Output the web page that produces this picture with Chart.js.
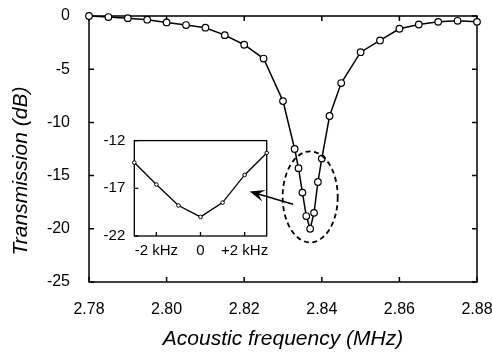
<!DOCTYPE html>
<html>
<head>
<meta charset="utf-8">
<script src="https://cdn.jsdelivr.net/npm/chart.js@4/dist/chart.umd.min.js"></script>
<style>
  html, body { margin: 0; padding: 0; background: #fff; }
  #wrap { position: relative; width: 492px; height: 358px; }
  #main { position: absolute; left: 0; top: 0; }
  #inset { position: absolute; left: 95px; top: 128px; }
</style>
</head>
<body>
<div id="wrap">
  <canvas id="main" width="492" height="358"></canvas>
  <canvas id="inset" width="180" height="140"></canvas>
</div>
<script>
// main sweep: acoustic frequency (MHz) vs transmission (dB)
const freqMHz = [2.78, 2.785, 2.79, 2.795, 2.80, 2.805, 2.81, 2.815, 2.82, 2.825, 2.83,
                 2.833, 2.834, 2.835, 2.836, 2.837, 2.838, 2.839, 2.840, 2.842, 2.845,
                 2.85, 2.855, 2.86, 2.865, 2.87, 2.875, 2.88];
const transDb = [0, -0.1, -0.2, -0.35, -0.6, -0.85, -1.1, -1.8, -2.7, -4.0, -8.0,
                 -12.5, -14.3, -16.6, -18.8, -20.0, -18.5, -15.6, -13.4, -9.4, -6.3,
                 -3.4, -2.3, -1.2, -0.8, -0.55, -0.45, -0.55];
const xTicks = [2.78, 2.80, 2.82, 2.84, 2.86, 2.88];
const yTicks = [0, -5, -10, -15, -20, -25];

// inset: zoom on the dip, offset from 2.837 MHz in kHz
const insetKHz = [-3, -2, -1, 0, 1, 2, 3];
const insetDb = [-14.3, -16.6, -18.8, -20.0, -18.5, -15.6, -13.3];
const insetXTicks = [-2, 0, 2];
const insetXLabels = ['-2 kHz', '0', '+2 kHz'];
const insetYTicks = [-12, -17, -22];

// dashed ellipse around the dip and arrow toward the inset (data units)
const ring = { x: 2.837, y: -17.0, rx: 0.0071, ry: 4.28 };
const arrow = { fromX: 2.8326, fromY: -17.7, toX: 2.8214, toY: -16.5 };

Chart.defaults.font.family = "Arial, 'Liberation Sans', sans-serif";
Chart.defaults.color = '#000';

// box around the plot with inward tick marks
const frameTicks = {
  id: 'frameTicks',
  beforeDatasetsDraw(chart, args, opts) {
    const { ctx, chartArea: a, scales: { x, y } } = chart;
    ctx.save();
    ctx.strokeStyle = '#000';
    ctx.lineWidth = opts.width;
    ctx.strokeRect(a.left, a.top, a.right - a.left, a.bottom - a.top);
    ctx.beginPath();
    x.ticks.forEach(t => {
      const px = x.getPixelForValue(t.value);
      ctx.moveTo(px, a.bottom); ctx.lineTo(px, a.bottom - opts.len);
      if (opts.top) { ctx.moveTo(px, a.top); ctx.lineTo(px, a.top + opts.len); }
    });
    y.ticks.forEach(t => {
      const py = y.getPixelForValue(t.value);
      ctx.moveTo(a.left, py); ctx.lineTo(a.left + opts.len, py);
      if (opts.right) { ctx.moveTo(a.right, py); ctx.lineTo(a.right - opts.len, py); }
    });
    ctx.stroke();
    ctx.restore();
  }
};

// dashed ellipse + arrow + y title (placed a bit below centre like the original)
const marks = {
  id: 'marks',
  afterDatasetsDraw(chart) {
    const { ctx, scales: { x, y } } = chart;
    ctx.save();
    const cx = x.getPixelForValue(ring.x), cy = y.getPixelForValue(ring.y);
    const rx = x.getPixelForValue(ring.x + ring.rx) - cx;
    const ry = cy - y.getPixelForValue(ring.y + ring.ry);
    ctx.strokeStyle = '#000';
    ctx.lineWidth = 1.8;
    ctx.setLineDash([5, 3.5]);
    ctx.beginPath();
    ctx.ellipse(cx, cy, rx, ry, 0, 0, Math.PI * 2);
    ctx.stroke();
    ctx.setLineDash([]);

    const x0 = x.getPixelForValue(arrow.fromX), y0 = y.getPixelForValue(arrow.fromY);
    const x1 = x.getPixelForValue(arrow.toX), y1 = y.getPixelForValue(arrow.toY);
    const ang = Math.atan2(y1 - y0, x1 - x0);
    ctx.lineWidth = 1.5;
    ctx.beginPath();
    ctx.moveTo(x0, y0);
    ctx.lineTo(x1 - 8 * Math.cos(ang), y1 - 8 * Math.sin(ang));
    ctx.stroke();
    const L = 15, W = 6;
    const bx = x1 - L * Math.cos(ang), by = y1 - L * Math.sin(ang);
    const nx = -Math.sin(ang), ny = Math.cos(ang);
    const mx = x1 - 0.6 * L * Math.cos(ang), my = y1 - 0.6 * L * Math.sin(ang);
    ctx.fillStyle = '#000';
    ctx.beginPath();
    ctx.moveTo(x1, y1);
    ctx.lineTo(bx + nx * W, by + ny * W);
    ctx.lineTo(mx, my);
    ctx.lineTo(bx - nx * W, by - ny * W);
    ctx.closePath();
    ctx.fill();

    ctx.translate(21, (y.top + y.bottom) / 2 + 22);
    ctx.rotate(-Math.PI / 2);
    ctx.font = "italic 21px Arial, 'Liberation Sans', sans-serif";
    ctx.textAlign = 'center';
    ctx.textBaseline = 'middle';
    ctx.fillText('Transmission (dB)', 0, 0);
    ctx.restore();
  }
};

// drop the extra room Chart.js keeps for overhanging labels
const noOverhangX = h => s => { s.height = h; s.paddingLeft = 0; s.paddingRight = 0; };
const noOverhangY = w => s => { s.width = w; s.paddingTop = 0; s.paddingBottom = 0; };

new Chart(document.getElementById('main'), {
  type: 'line',
  data: {
    datasets: [{
      data: freqMHz.map((f, i) => ({ x: f, y: transDb[i] })),
      borderColor: '#000',
      borderWidth: 1.5,
      pointRadius: 3.3,
      pointBorderWidth: 1.2,
      pointBackgroundColor: '#fff',
      pointBorderColor: '#000',
      tension: 0,
      clip: false
    }]
  },
  options: {
    responsive: false,
    animation: false,
    layout: { padding: { top: 16, right: 15, left: 0, bottom: 0 } },
    plugins: {
      legend: { display: false },
      tooltip: { enabled: false },
      frameTicks: { width: 1.5, len: 5, top: true, right: true }
    },
    scales: {
      x: {
        type: 'linear',
        min: 2.78,
        max: 2.88,
        afterBuildTicks: s => { s.ticks = xTicks.map(v => ({ value: v })); },
        afterFit: noOverhangX(76),
        grid: { display: false, drawTicks: false },
        border: { display: false },
        ticks: {
          padding: 18,
          maxRotation: 0,
          font: { size: 16 },
          callback: v => Number(v).toFixed(2)
        },
        title: {
          display: true,
          text: 'Acoustic frequency (MHz)',
          font: { size: 21, style: 'italic' },
          padding: { top: 0, bottom: 6 }
        }
      },
      y: {
        min: -25,
        max: 0,
        afterBuildTicks: s => { s.ticks = yTicks.map(v => ({ value: v })); },
        afterFit: noOverhangY(89),
        grid: { display: false, drawTicks: false },
        border: { display: false },
        ticks: { padding: 19, font: { size: 16 } }
      }
    }
  },
  plugins: [frameTicks, marks]
});

new Chart(document.getElementById('inset'), {
  type: 'line',
  data: {
    datasets: [{
      data: insetKHz.map((k, i) => ({ x: k, y: insetDb[i] })),
      borderColor: '#000',
      borderWidth: 1.3,
      pointRadius: 1.8,
      pointBorderWidth: 1,
      pointBackgroundColor: '#fff',
      pointBorderColor: '#000',
      tension: 0,
      clip: false
    }]
  },
  options: {
    responsive: false,
    animation: false,
    layout: { padding: { top: 12.6, right: 8.3, left: 0, bottom: 0 } },
    plugins: {
      legend: { display: false },
      tooltip: { enabled: false },
      frameTicks: { width: 1.3, len: 4, top: false, right: false }
    },
    scales: {
      x: {
        type: 'linear',
        min: -3,
        max: 3,
        afterBuildTicks: s => { s.ticks = insetXTicks.map(v => ({ value: v })); },
        afterFit: noOverhangX(32),
        grid: { display: false, drawTicks: false },
        border: { display: false },
        ticks: {
          padding: 6,
          maxRotation: 0,
          font: { size: 15 },
          callback: v => insetXLabels[insetXTicks.indexOf(v)]
        }
      },
      y: {
        min: -22,
        max: -12,
        afterBuildTicks: s => { s.ticks = insetYTicks.map(v => ({ value: v })); },
        afterFit: noOverhangY(39.3),
        grid: { display: false, drawTicks: false },
        border: { display: false },
        ticks: { padding: 9, font: { size: 15 } }
      }
    }
  },
  plugins: [frameTicks]
});
</script>
</body>
</html>
